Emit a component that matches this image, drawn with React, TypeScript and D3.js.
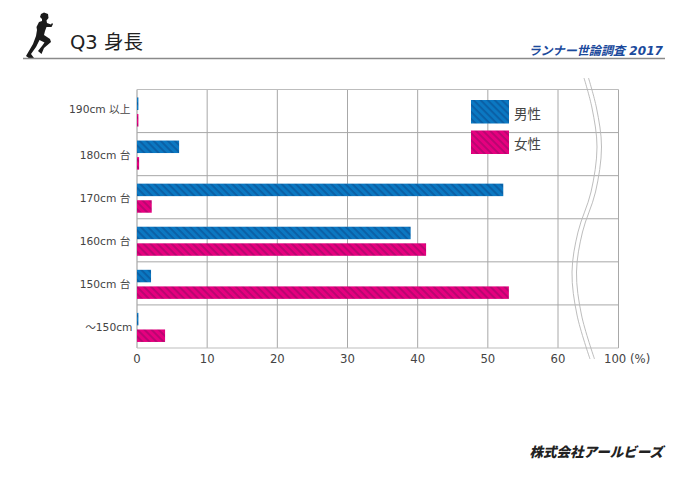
import React from "react";
import * as d3 from "d3";

const categories = ["190cm 以上", "180cm 台", "170cm 台", "160cm 台", "150cm 台", "～150cm"];
const maleValues = [0.2, 6, 52.2, 39, 2, 0.2];
const femaleValues = [0.2, 0.3, 2.1, 41.2, 53, 4];
const xTicks = [0, 10, 20, 30, 40, 50, 60, 100];
const seriesNames = ["男性", "女性"];
const breakCurve: [number, number][] = [[584, 78], [592, 108], [597, 147], [591, 192], [578, 232], [572, 272], [577, 315], [590, 359]];
const runner = "M41 14 L44 12.5 L48 14 L48.5 18 L46.5 20.5 L47 23 L51 24.5 L52 23 L53 24 L51.5 27 L46.5 27 L45 31 L44 35 L50 39 L51 42 L44 48 L41.5 54 L38 51 L42 46 L44.5 42.5 L39.5 40 L36 47 L31 54 L34 58 L30 59 L26 56 L33 44 L36 36 L37 30 L36.5 27 L39 22 L42 21 L42 19 L40 17 Z";

const W = 688, H = 487;
const FONT = "'DejaVu Sans', 'Noto Sans CJK JP', sans-serif";
const TEXT = "#444";
const GRID = "#a8a8a8";

export default function App() {
  const x = d3.scaleLinear().domain([0, 60, 100]).range([137, 558, 618.5]);
  const y = d3.scaleBand<string>().domain(categories).range([89.5, 348]);
  const band = y.bandwidth();
  const breakPath = d3.line().curve(d3.curveCatmullRom.alpha(0.5));
  const ticksY = categories.map((c) => y(c)!).concat(348);
  return (
    <svg width={W} height={H} viewBox={`0 0 ${W} ${H}`} style={{ position: "absolute", left: 0, top: 0, background: "#fff" }} fontFamily={FONT}>
      <defs>
        <pattern id="hm" width="5" height="5" patternUnits="userSpaceOnUse" patternTransform="rotate(45)">
          <rect width="5" height="5" fill="#0b78c2" />
          <rect width="5" height="1.9" fill="#0a5fa5" />
        </pattern>
        <pattern id="hf" width="5" height="5" patternUnits="userSpaceOnUse" patternTransform="rotate(45)">
          <rect width="5" height="5" fill="#e6007f" />
          <rect width="5" height="1.9" fill="#b80670" />
        </pattern>
      </defs>

      <path d={runner} fill="#1a1a1a" />
      <line x1={23} x2={665} y1={58.5} y2={58.5} stroke="#8a8a8a" strokeWidth={1.6} />
      <text x={70} y={49} fontSize={19.5} fill="#222">Q3 身長</text>
      <text x={663} y={55} textAnchor="end" fontSize={12.1} fontWeight={700} fontStyle="italic" fill="#1b4a9c">ランナー世論調査 2017</text>

      {xTicks.map((t) => (
        <line key={t} x1={x(t)} x2={x(t)} y1={89.5} y2={348} stroke={t === 0 ? "#bdbdbd" : GRID} strokeWidth={t === 0 ? 1.6 : 1} />
      ))}
      {ticksY.map((v, i) => (
        <line key={i} x1={137} x2={618.5} y1={v} y2={v} stroke={i === 0 || i === 6 ? "#bdbdbd" : GRID} strokeWidth={1} />
      ))}

      {[0, 4.5].map((d) => (
        <path key={d} d={breakPath(breakCurve.map(([a, b]) => [a + d, b] as [number, number]))!} fill="none" stroke="#b5b5b5" strokeWidth={0.9} />
      ))}

      {categories.map((c, i) => {
        const top = y(c)!;
        return (
          <g key={c}>
            <rect x={x(0)} y={top + band * 0.185} width={x(maleValues[i]) - x(0)} height={band * 0.29} fill="url(#hm)" />
            <rect x={x(0)} y={top + band * 0.57} width={x(femaleValues[i]) - x(0)} height={band * 0.29} fill="url(#hf)" />
            <text x={i === 5 ? 132.5 : 130.5} y={top + band / 2 + (i === 0 ? 1.5 : 4.5)} textAnchor="end" fontSize={10.7} fill={TEXT}>{c}</text>
          </g>
        );
      })}

      {xTicks.map((t) => (
        <text key={t} x={t === 100 ? 604 : x(t)} y={363} textAnchor={t === 100 ? "start" : "middle"} fontSize={11.7} fill={TEXT}>
          {t === 100 ? "100 (%)" : t}
        </text>
      ))}

      {seriesNames.map((n, i) => (
        <g key={n}>
          <rect x={471} y={100 + i * 30.5} width={38} height={23.5} fill={i === 0 ? "url(#hm)" : "url(#hf)"} />
          <text x={514} y={119 + i * 30} fontSize={13.5} fill={TEXT}>{n}</text>
        </g>
      ))}

      <text x={663} y={457} textAnchor="end" fontSize={13.5} fontWeight={900} fontStyle="italic" fill="#222">株式会社アールビーズ</text>
    </svg>
  );
}
